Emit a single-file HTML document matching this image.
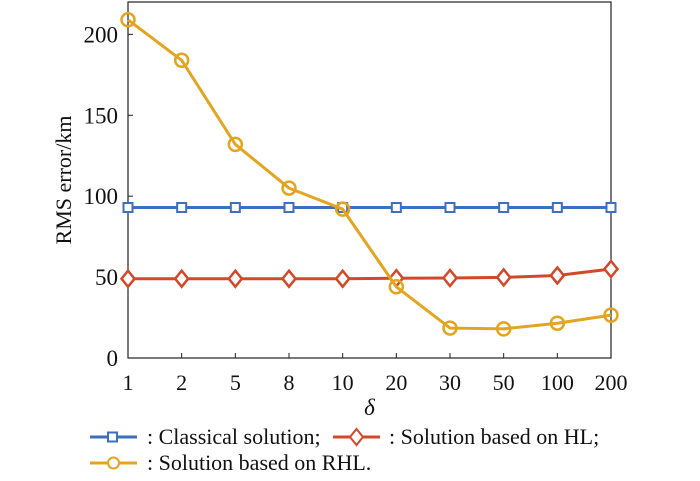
<!DOCTYPE html>
<html><head><meta charset="utf-8"><style>
body{margin:0;background:#fff;}
svg{display:block;font-family:"Liberation Serif",serif;}
</style></head><body>
<svg id="chart" width="700" height="481">
<g id="axes"></g><g id="series"></g>
<g font-size="22" fill="#111">
 <line x1="90" y1="437" x2="137" y2="437" stroke="#3d6fbf" stroke-width="3"/>
 <rect x="108" y="432.5" width="9" height="9" fill="#fff" stroke="#3d6fbf" stroke-width="2"/>
 <text x="147" y="444">: Classical solution;</text>
 <line x1="333" y1="437" x2="380" y2="437" stroke="#d2492a" stroke-width="3"/>
 <path d="M356.5 429 L363 437 L356.5 445 L350 437 Z" fill="#fff" stroke="#d2492a" stroke-width="2"/>
 <text x="389" y="444">: Solution based on HL;</text>
 <line x1="90" y1="463" x2="137" y2="463" stroke="#e3a41f" stroke-width="3"/>
 <circle cx="113.5" cy="463" r="5.5" fill="#fff" stroke="#e3a41f" stroke-width="2"/>
 <text x="147" y="470">: Solution based on RHL.</text>
</g>
</svg>
<script>
const categories=["1","2","5","8","10","20","30","50","100","200"];
const classical=[93,93,93,93,93,93,93,93,93,93];
const hl=[49,49,49,49,49,49.3,49.4,49.8,51,55];
const rhl=[209,184,132,105,92,44,18.5,18,21.5,26.5];
const yTicks=[0,50,100,150,200];
const NS="http://www.w3.org/2000/svg";
const L=128,R=611,T=2,B=358,yMax=220;
const x=i=>L+i*(R-L)/(categories.length-1);
const y=v=>B-v*(B-T)/yMax;
function mk(tag,attrs,parent){const e=document.createElementNS(NS,tag);for(const k in attrs)e.setAttribute(k,attrs[k]);parent.appendChild(e);return e;}
const ax=document.getElementById('axes'),sg=document.getElementById('series');
const box=mk('rect',{x:L,y:T,width:R-L,height:B-T,fill:'none',stroke:'#222','stroke-width':1.2},ax);


yTicks.forEach(v=>{
 mk('line',{x1:L,x2:L+5,y1:y(v),y2:y(v),stroke:'#222'},ax);
 const t=mk('text',{x:L-10,y:y(v)+8,'text-anchor':'end','font-size':23,fill:'#111'},ax);t.textContent=v;
 
 
});
categories.forEach((c,i)=>{
 mk('line',{x1:x(i),x2:x(i),y1:B,y2:B-5,stroke:'#222'},ax);
 const t=mk('text',{x:x(i),y:B+32,'text-anchor':'middle','font-size':22,fill:'#111'},ax);t.textContent=c;
 
 
});
const yl=mk('text',{x:0,y:0,transform:`translate(71,${(T+B)/2}) rotate(-90)`,'text-anchor':'middle','font-size':22,fill:'#111'},ax);
yl.textContent='RMS error/km';


const xl=mk('text',{x:(L+R)/2,y:415,'text-anchor':'middle','font-size':23,'font-style':'italic',fill:'#111'},ax);
xl.textContent='δ';


function series(vals,color,marker,name){
 const g=mk('g',{},sg);
 
 
 mk('polyline',{points:vals.map((v,i)=>x(i)+','+y(v)).join(' '),fill:'none',stroke:color,'stroke-width':3},g);
 vals.forEach((v,i)=>{
  const cx=x(i),cy=y(v);let m;
  if(marker==='s')m=mk('rect',{x:cx-4.5,y:cy-4.5,width:9,height:9,fill:'#fff',stroke:color,'stroke-width':2},g);
  else if(marker==='d')m=mk('path',{d:`M${cx} ${cy-8}L${cx+6.5} ${cy}L${cx} ${cy+8}L${cx-6.5} ${cy}Z`,fill:'#fff',stroke:color,'stroke-width':2.5},g);
  else m=mk('circle',{cx:cx,cy:cy,r:6.5,fill:'none',stroke:color,'stroke-width':2.5},g);
  
  
 });
}
series(classical,'#3d6fbf','s','classical-series');
series(hl,'#d2492a','d','hl-series');
series(rhl,'#e3a41f','o','rhl-series');
</script>
</body></html>
